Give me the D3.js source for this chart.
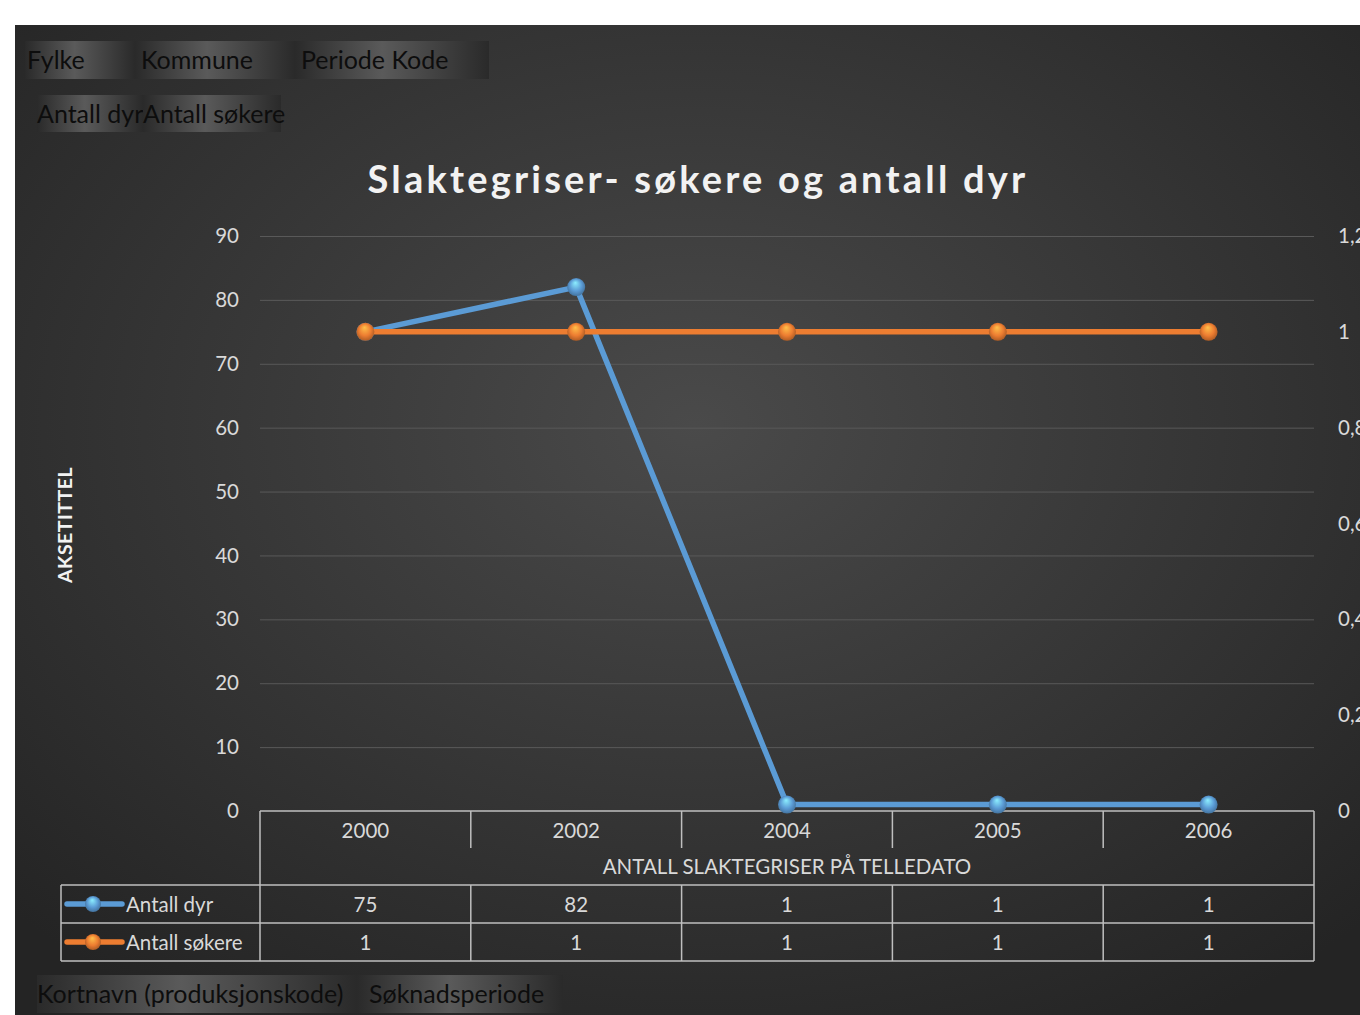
<!DOCTYPE html>
<html>
<head>
    <script src="https://cdnjs.cloudflare.com/ajax/libs/d3/7.8.5/d3.min.js"></script>
    <style>
        body { margin: 0; background: #fff; }
        svg { display: block; }
        text { font-family: Lato, "Open Sans", sans-serif; }
        .tick-label { fill: #d9d9d9; font-size: 20.5px; }
        .grid line { stroke: #595959; stroke-width: 1; }
        .table-line { stroke: #bfbfbf; stroke-width: 1.5; fill: none; }
        .btn-label { fill: #0d0d0d; font-size: 25px; }
    </style>
</head>
<body>
    <svg width="1360" height="1015"></svg>
    <script>
        // Data
        const years = ["2000", "2002", "2004", "2005", "2006"];
        const antallDyr = [75, 82, 1, 1, 1];
        const antallSokere = [1, 1, 1, 1, 1];
        const leftTicks = [0, 10, 20, 30, 40, 50, 60, 70, 80, 90];
        const rightTicks = [0, 0.2, 0.4, 0.6, 0.8, 1, 1.2];
        const seriesNames = ["Antall dyr", "Antall søkere"];
        const seriesColors = ["#5b9bd5", "#ed7d31"];
        const topButtons = ["Fylke", "Kommune", "Periode Kode"];
        const valueButtons = ["Antall dyr", "Antall søkere"];
        const bottomButtons = ["Kortnavn (produksjonskode)", "Søknadsperiode"];

        const svg = d3.select("svg");
        const defs = svg.append("defs");

        // Background gradient
        const bg = defs.append("radialGradient").attr("id", "bg")
            .attr("cx", "50%").attr("cy", "40%").attr("r", "70%");
        bg.append("stop").attr("offset", "0%").attr("stop-color", "#4a4a4a");
        bg.append("stop").attr("offset", "100%").attr("stop-color", "#242424");

        svg.append("rect")
            .attr("x", 15).attr("y", 25)
            .attr("width", 1360).attr("height", 1000)
            .attr("fill", "url(#bg)");

        // Button gradient
        const bgrad = defs.append("linearGradient").attr("id", "btn")
            .attr("x1", "0%").attr("x2", "100%");
        bgrad.append("stop").attr("offset", "0%").attr("stop-color", "#2a2a2a");
        bgrad.append("stop").attr("offset", "45%").attr("stop-color", "#5a5a5a");
        bgrad.append("stop").attr("offset", "100%").attr("stop-color", "#2a2a2a");

        // Sphere gradients for markers
        seriesColors.forEach((c, i) => {
            const g = defs.append("radialGradient").attr("id", "ball" + i)
                .attr("cx", "50%").attr("cy", "50%").attr("r", "60%")
                .attr("fx", "45%").attr("fy", "25%");
            g.append("stop").attr("offset", "0%").attr("stop-color", d3.color(c).brighter(1.2));
            g.append("stop").attr("offset", "55%").attr("stop-color", c);
            g.append("stop").attr("offset", "100%").attr("stop-color", d3.color(c).darker(1.2));
        });

        function buttons(labels, x0, y0, h, widths, pads) {
            let x = x0;
            labels.forEach((t, i) => {
                svg.append("rect").attr("x", x).attr("y", y0)
                    .attr("width", widths[i]).attr("height", h)
                    .attr("fill", "url(#btn)");
                svg.append("text").attr("class", "btn-label")
                    .attr("x", x + pads[i]).attr("y", y0 + h / 2 + 9)
                    .text(t);
                x += widths[i];
            });
        }
        buttons(topButtons, 25, 41, 38, [110, 160, 194], [2, 6, 6]);
        buttons(valueButtons, 37, 95, 37, [106, 138], [0, 0]);
        buttons(bottomButtons, 37, 975, 38, [320, 206], [0, 12]);

        // Scales
        const x = d3.scaleBand().domain(years).range([260, 1314]);
        const yL = d3.scaleLinear().domain([0, 90]).range([811, 236]);
        const yR = d3.scaleLinear().domain([0, 1.2]).range([811, 236]);

        // Grid
        svg.append("g").attr("class", "grid")
            .attr("transform", "translate(260,0)")
            .call(d3.axisLeft(yL).tickValues(leftTicks.slice(1)).tickSize(-1054).tickFormat(""))
            .call(g => g.select(".domain").remove());

        // Left axis labels
        svg.append("g")
            .attr("transform", "translate(260,0)")
            .call(d3.axisLeft(yL).tickValues(leftTicks).tickSize(0).tickPadding(21))
            .call(g => g.select(".domain").remove())
            .call(g => g.selectAll("text").attr("class", "tick-label").attr("fill", null)
                .attr("font-size", null).attr("font-family", null));

        // Right axis labels
        const fmtR = d => String(+d.toFixed(1)).replace(".", ",");
        svg.append("g")
            .attr("transform", "translate(1314,0)")
            .call(d3.axisRight(yR).tickValues(rightTicks).tickSize(0).tickPadding(24).tickFormat(fmtR))
            .call(g => g.select(".domain").remove())
            .call(g => g.selectAll("text").attr("class", "tick-label").attr("fill", null)
                .attr("font-size", null).attr("font-family", null));

        // Title
        svg.append("text")
            .attr("x", 698).attr("y", 193)
            .attr("text-anchor", "middle")
            .attr("fill", "#f2f2f2")
            .attr("font-size", 38).attr("font-weight", "bold")
            .attr("letter-spacing", 3.2)
            .text("Slaktegriser- søkere og antall dyr");

        // Axis title
        svg.append("text")
            .attr("transform", "translate(72,525) rotate(-90)")
            .attr("text-anchor", "middle")
            .attr("fill", "#f2f2f2")
            .attr("font-size", 19.5).attr("font-weight", "bold")
            .attr("letter-spacing", 0.5)
            .text("AKSETITTEL");

        // Data table
        const tRow1 = 811, tRow2 = 848, tRow3 = 885, tRow4 = 923, tRow5 = 961;
        const table = svg.append("g");
        table.append("line").attr("class", "table-line")
            .attr("x1", 260).attr("x2", 1314).attr("y1", tRow1).attr("y2", tRow1);
        [tRow3, tRow4, tRow5].forEach(yy => table.append("line").attr("class", "table-line")
            .attr("x1", 61).attr("x2", 1314).attr("y1", yy).attr("y2", yy));
        table.append("line").attr("class", "table-line")
            .attr("x1", 260).attr("x2", 260).attr("y1", tRow1).attr("y2", tRow5);
        table.append("line").attr("class", "table-line")
            .attr("x1", 1314).attr("x2", 1314).attr("y1", tRow1).attr("y2", tRow5);
        table.append("line").attr("class", "table-line")
            .attr("x1", 61).attr("x2", 61).attr("y1", tRow3).attr("y2", tRow5);
        years.slice(1).forEach(yr => {
            const xx = x(yr);
            table.append("line").attr("class", "table-line")
                .attr("x1", xx).attr("x2", xx).attr("y1", tRow1).attr("y2", tRow2);
            table.append("line").attr("class", "table-line")
                .attr("x1", xx).attr("x2", xx).attr("y1", tRow3).attr("y2", tRow5);
        });

        // Category labels
        table.selectAll(".cat").data(years).enter().append("text")
            .attr("class", "tick-label")
            .attr("x", d => x(d) + x.bandwidth() / 2)
            .attr("y", 838).attr("text-anchor", "middle")
            .text(d => d);
        table.append("text").attr("class", "tick-label")
            .attr("x", 787).attr("y", 874).attr("text-anchor", "middle")
            .text("ANTALL SLAKTEGRISER PÅ TELLEDATO");

        // Table values
        [antallDyr, antallSokere].forEach((vals, si) => {
            const ry = si === 0 ? 912 : 950;
            table.selectAll(".v" + si).data(vals).enter().append("text")
                .attr("class", "tick-label")
                .attr("x", (d, i) => x(years[i]) + x.bandwidth() / 2)
                .attr("y", ry).attr("text-anchor", "middle")
                .text(d => d);
            const ly = ry - 8;
            table.append("line").attr("x1", 67).attr("x2", 122)
                .attr("y1", ly).attr("y2", ly)
                .attr("stroke", seriesColors[si]).attr("stroke-width", 5.5)
                .attr("stroke-linecap", "round");
            table.append("circle").attr("cx", 93).attr("cy", ly).attr("r", 8)
                .attr("fill", `url(#ball${si})`);
            table.append("text").attr("class", "tick-label")
                .attr("x", 126).attr("y", ry)
                .text(seriesNames[si]);
        });

        // Lines
        const cx = (d, i) => x(years[i]) + x.bandwidth() / 2;
        const lineL = d3.line().x(cx).y(d => yL(d));
        const lineR = d3.line().x(cx).y(d => yR(d));

        svg.append("path").datum(antallDyr)
            .attr("d", lineL).attr("fill", "none")
            .attr("stroke", seriesColors[0]).attr("stroke-width", 5.5)
            .attr("stroke-linejoin", "round");
        svg.selectAll(".dotL").data(antallDyr).enter().append("circle")
            .attr("cx", cx).attr("cy", d => yL(d)).attr("r", 9)
            .attr("fill", "url(#ball0)");

        svg.append("path").datum(antallSokere)
            .attr("d", lineR).attr("fill", "none")
            .attr("stroke", seriesColors[1]).attr("stroke-width", 5.5)
            .attr("stroke-linejoin", "round");
        svg.selectAll(".dotR").data(antallSokere).enter().append("circle")
            .attr("cx", cx).attr("cy", d => yR(d)).attr("r", 9)
            .attr("fill", "url(#ball1)");
    </script>
</body>
</html>
